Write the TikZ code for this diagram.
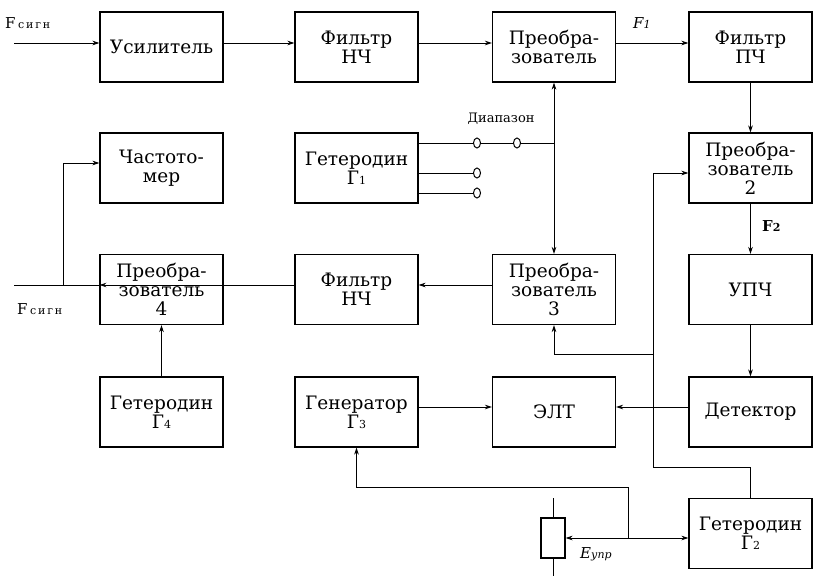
\documentclass[tikz,border=0pt]{standalone}
\usepackage{fontspec}
\newfontfamily\tw{DejaVu Serif}
\usetikzlibrary{arrows.meta,shapes.geometric}
\newcommand\sbs[1]{{\fontsize{11}{11}\selectfont #1}}
\begin{document}
\begin{tikzpicture}[x=1pt,y=-1pt,
  >={Stealth[length=7pt,width=4.5pt]},
  blk/.style={draw,line width=1.1pt,minimum width=123pt,minimum height=70pt,inner sep=0pt,align=center,font=\tw\fontsize{18.5}{19}\selectfont},
  wire/.style={line width=0.9pt},
  contact/.style={draw,ellipse,line width=1pt,minimum width=7pt,minimum height=10pt,inner sep=0pt},
  lbl/.style={font=\tw\fontsize{15}{15}\selectfont,inner sep=0pt}]
\useasboundingbox (0,0) rectangle (815,576);
% blocks
\node[blk] (usil) at (161.5,47) {Усилитель};
\node[blk] (filt1) at (356.5,47) {Фильтр\\НЧ};
\node[blk] (preob1) at (554,47) {Преобра-\\зователь};
\node[blk] (filtpch) at (750.5,47) {Фильтр\\ПЧ};
\node[blk] (chast) at (161.5,168) {Частото-\\мер};
\node[blk] (get1) at (356.5,168) {Гетеродин\\Г\sbs{1}};
\node[blk] (preob2) at (750.5,168) {Преобра-\\зователь\\2};
\node[blk] (preob4) at (161.5,289.5) {Преобра-\\зователь\\4};
\node[blk] (filt2) at (356.5,289.5) {Фильтр\\НЧ};
\node[blk] (preob3) at (554,289.5) {Преобра-\\зователь\\3};
\node[blk] (upch) at (750.5,289.5) {УПЧ};
\node[blk] (get4) at (161.5,412) {Гетеродин\\Г\sbs{4}};
\node[blk] (gen3) at (356.5,412) {Генератор\\Г\sbs{3}};
\node[blk] (elt) at (554,412) {ЭЛТ};
\node[blk] (det) at (750.5,412) {Детектор};
\node[blk] (get2) at (750.5,533.5) {Гетеродин\\Г\sbs{2}};
\node[draw,line width=1.1pt,minimum width=24pt,minimum height=40pt,inner sep=0pt] (pot) at (553,538) {};
% contacts
\node[contact] (ka) at (477,143) {};
\node[contact] (kb) at (517,143) {};
\node[contact] (kc) at (477,173) {};
\node[contact] (kd) at (477,193) {};
% labels
\node[lbl,anchor=base west] (lin) at (5,28) {F\,\sbs{с\,и\,г\,н}};
\node[lbl,anchor=base west] (lout) at (17,314) {F\,\sbs{с\,и\,г\,н}};
\node[lbl,anchor=base west] (lf1) at (633,28) {\itshape F\sbs{1}};
\node[lbl,anchor=base west] (lf2) at (762,231) {\bfseries F\sbs{2}};
\node[lbl,anchor=base west] (leu) at (580,558) {\itshape E\sbs{упр}};
\node[lbl,anchor=base,font=\tw\fontsize{13}{13}\selectfont] (ldiap) at (501,122) {Диапазон};
% coordinates
\coordinate (fin) at (14,43);
\coordinate (fout) at (14,285);
\coordinate (jC) at (63,285);
\coordinate (jA) at (653,467);
\coordinate (jB) at (653,354);
\coordinate (jD) at (628,538);
\coordinate (ptop) at (553,498);
\coordinate (pbot) at (553,576);
% row 1
\draw[wire,->] (fin) -- (fin -| usil.west);
\draw[wire,->] ([yshift=4pt]usil.east) -- ([yshift=4pt]filt1.west);
\draw[wire,->] ([yshift=4pt]filt1.east) -- ([yshift=4pt]preob1.west);
\draw[wire,->] ([yshift=4pt]preob1.east) -- ([yshift=4pt]filtpch.west);
% right column
\draw[wire,->] (filtpch.south) -- (preob2.north);
\draw[wire,->] (preob2.south) -- (upch.north);
\draw[wire,->] (upch.south) -- (det.north);
% row 4
\draw[wire,->] ([yshift=5pt]det.west) -- ([yshift=5pt]elt.east);
\draw[wire,->] ([yshift=5pt]gen3.east) -- ([yshift=5pt]elt.west);
% row 3
\draw[wire,->] ([yshift=4.5pt]preob3.west) -- ([yshift=4.5pt]filt2.east);
\draw[wire,->] ([yshift=4.5pt]filt2.west) -- ([yshift=4.5pt]preob4.west);
\draw[wire] ([yshift=4.5pt]preob4.west) -- (fout);
\draw[wire,->] (jC) |- ([yshift=5pt]chast.west);
\draw[wire,->] (get4.north) -- (preob4.south);
% switch
\draw[wire,<->] (preob1.south) -- (preob3.north);
\draw[wire] (get1.east |- ka) -- (ka);
\draw[wire] (ka) -- (kb);
\draw[wire] (kb) -- (kb -| preob1.south);
\draw[wire] (get1.east |- kc) -- (kc);
\draw[wire] (get1.east |- kd) -- (kd);
% heterodyne 2 feed
\draw[wire,->] (get2.north) |- (jA) |- ([yshift=-5pt]preob2.west);
\draw[wire,->] (jB) -| (preob3.south);
% potentiometer
\draw[wire] (pot.north) -- (ptop);
\draw[wire] (pot.south) -- (pbot);
\draw[wire,<->] (pot.east) -- (pot.east -| get2.west);
\draw[wire,->] (jD) -- (628,487) -| (gen3.south);
\end{tikzpicture}
\end{document}
